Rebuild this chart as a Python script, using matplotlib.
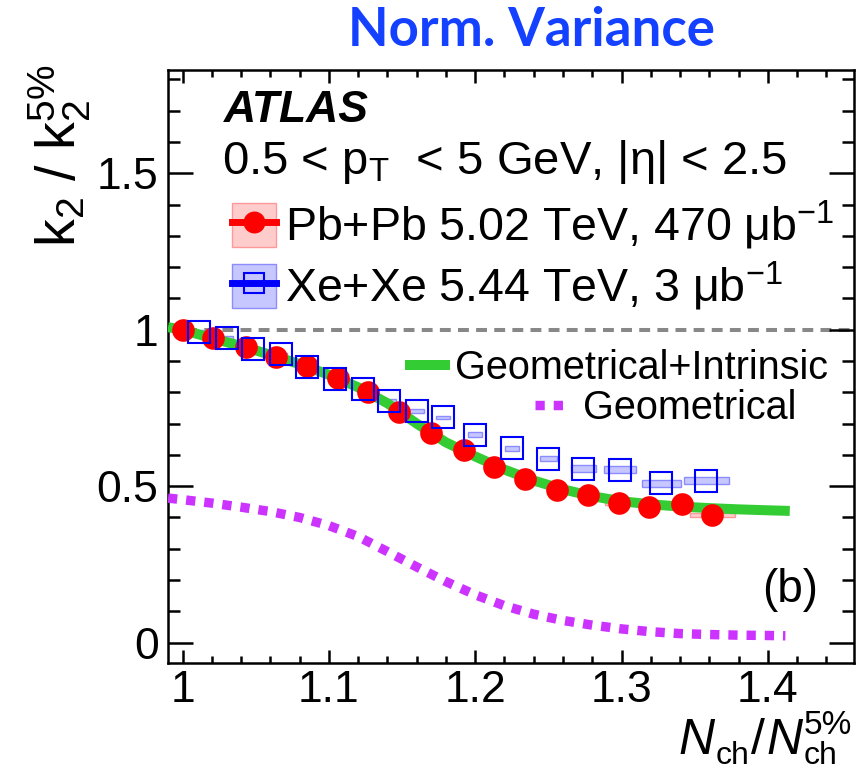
import matplotlib
matplotlib.use('Agg')
import matplotlib.pyplot as plt
from matplotlib.lines import Line2D
from matplotlib.patches import Patch
from matplotlib.legend_handler import HandlerTuple
from matplotlib.ticker import MultipleLocator, FuncFormatter

plt.rcParams['font.family'] = ['Liberation Sans', 'DejaVu Sans']
plt.rcParams['mathtext.fontset'] = 'custom'
plt.rcParams['mathtext.rm'] = 'Liberation Sans'
plt.rcParams['mathtext.it'] = 'Liberation Sans:italic'
plt.rcParams['mathtext.bf'] = 'Liberation Sans:bold'

# Pb+Pb 5.02 TeV, normalised k2 vs Nch/Nch(5%)
pb_x = [1.000, 1.021, 1.043, 1.064, 1.085, 1.106, 1.127, 1.148, 1.170,
        1.192, 1.213, 1.234, 1.256, 1.277, 1.298, 1.319, 1.341, 1.362]
pb_y = [1.000, 0.972, 0.946, 0.914, 0.884, 0.845, 0.802, 0.738, 0.669,
        0.616, 0.562, 0.522, 0.488, 0.472, 0.447, 0.435, 0.442, 0.408]
pb_sys_w = [0.010, 0.010, 0.010, 0.010, 0.010, 0.010, 0.010, 0.010, 0.010,
            0.010, 0.010, 0.010, 0.012, 0.012, 0.0185, 0.014, 0.014, 0.031]
pb_sys_h = [0.012, 0.012, 0.012, 0.012, 0.012, 0.012, 0.012, 0.012, 0.012,
            0.012, 0.012, 0.012, 0.012, 0.012, 0.012, 0.012, 0.012, 0.012]

# Xe+Xe 5.44 TeV
xe_x = [1.011, 1.030, 1.048, 1.067, 1.085, 1.104, 1.123, 1.141, 1.160,
        1.178, 1.200, 1.225, 1.250, 1.274, 1.299, 1.327, 1.358]
xe_y = [0.994, 0.973, 0.937, 0.921, 0.882, 0.843, 0.811, 0.772, 0.740,
        0.720, 0.664, 0.621, 0.587, 0.556, 0.552, 0.509, 0.517]
xe_sys_w = [0.009, 0.009, 0.009, 0.009, 0.009, 0.009, 0.009, 0.009, 0.010,
            0.009, 0.0096, 0.0096, 0.0116, 0.0171, 0.0219, 0.0267, 0.0308]
xe_sys_h = [0.011, 0.011, 0.011, 0.011, 0.011, 0.011, 0.011, 0.011, 0.011,
            0.011, 0.016, 0.016, 0.016, 0.022, 0.022, 0.022, 0.022]

# model: geometrical + intrinsic fluctuations
gi_x = [0.990, 1.00, 1.02, 1.04, 1.06, 1.08, 1.10, 1.12, 1.14, 1.16, 1.18,
        1.20, 1.22, 1.24, 1.26, 1.28, 1.30, 1.32, 1.34, 1.36, 1.38, 1.40, 1.415]
gi_y = [1.008, 1.000, 0.973, 0.948, 0.920, 0.890, 0.856, 0.816, 0.765, 0.700,
        0.640, 0.595, 0.553, 0.518, 0.490, 0.468, 0.452, 0.442, 0.435, 0.430,
        0.426, 0.423, 0.421]

# model: geometrical only
geo_x = [0.990, 1.00, 1.02, 1.04, 1.06, 1.08, 1.10, 1.12, 1.14, 1.16, 1.18,
         1.20, 1.22, 1.24, 1.26, 1.28, 1.30, 1.32, 1.34, 1.36, 1.38, 1.40, 1.412]
geo_y = [0.462, 0.457, 0.446, 0.433, 0.419, 0.400, 0.374, 0.339, 0.291, 0.242,
         0.195, 0.153, 0.118, 0.091, 0.071, 0.056, 0.044, 0.035, 0.029, 0.026,
         0.024, 0.023, 0.022]

RED = '#FF0000'
BLUE = '#0000FF'
GREEN = '#33CC33'
MAGENTA = '#CC33FF'
PINK_FILL = (1.0, 0.0, 0.0, 0.2)
PINK_EDGE = (1.0, 0.6, 0.6)
LBLUE_FILL = (0.0, 0.0, 1.0, 0.22)
LBLUE_EDGE = (0.55, 0.55, 1.0)

W, H = 861, 774
fig = plt.figure(figsize=(W / 100, H / 100), dpi=100)
ax = fig.add_axes([168.3 / W, 1 - 662.7 / H, (854 - 168.3) / W, (662.7 - 70) / H])


def fx(px):
    return px / W


def fy(py):
    return 1 - py / H


ax.set_xlim(0.9902, 1.4589)
ax.set_ylim(-0.064, 1.83)

ax.axhline(1.0, color='#888888', lw=2.9, dashes=(2.7, 1.8), zorder=1)

# systematic boxes
pb_bottom = [y - h / 2 for y, h in zip(pb_y, pb_sys_h)]
xe_bottom = [y - h / 2 for y, h in zip(xe_y, xe_sys_h)]
ax.bar(pb_x, pb_sys_h, width=pb_sys_w, bottom=pb_bottom, color=PINK_FILL,
       edgecolor=PINK_EDGE, lw=1.0, zorder=2)
ax.bar(xe_x, xe_sys_h, width=xe_sys_w, bottom=xe_bottom, color=LBLUE_FILL,
       edgecolor=LBLUE_EDGE, lw=1.0, zorder=2)

ax.plot(geo_x, geo_y, color=MAGENTA, lw=6.8, dashes=(0.98, 0.95),
        solid_capstyle='butt', zorder=3)
ax.plot(gi_x, gi_y, color=GREEN, lw=7.2, solid_capstyle='butt', zorder=3)

ax.plot(pb_x, pb_y, ls='none', marker='o', ms=16.3, color=RED, mec=RED,
        mew=0, zorder=4)
ax.plot(xe_x, xe_y, ls='none', marker='s', ms=15.3, mfc='none', mec=BLUE,
        mew=1.5, zorder=5)

# axes frame and ticks
for s in ax.spines.values():
    s.set_linewidth(1.8)
ax.xaxis.set_major_locator(MultipleLocator(0.1))
ax.xaxis.set_minor_locator(MultipleLocator(0.02))
ax.yaxis.set_major_locator(MultipleLocator(0.5))
ax.yaxis.set_minor_locator(MultipleLocator(0.1))
fmt = FuncFormatter(lambda v, p: '%g' % round(v, 3))
ax.xaxis.set_major_formatter(fmt)
ax.yaxis.set_major_formatter(fmt)
ax.tick_params(axis='both', which='both', direction='in', top=True,
               right=True, width=1.8, labelsize=32)
ax.tick_params(axis='x', which='major', length=9.4, pad=5)
ax.tick_params(axis='x', which='minor', length=5)
ax.tick_params(axis='y', which='major', length=18, pad=7)
ax.tick_params(axis='y', which='minor', length=8.6)

# y axis title
fig.text(fx(60), fy(64), r'k$_2$ / k$_2^{5\%}$', rotation=90, ha='center',
         va='top', fontsize=40)

# x axis title, built from pieces
fig.text(fx(678), fy(754), 'N', fontsize=36, fontstyle='italic', va='baseline')
fig.text(fx(716), fy(764), 'ch', fontsize=23, va='baseline')
fig.text(fx(751), fy(754), '/', fontsize=36, va='baseline')
fig.text(fx(766), fy(754), 'N', fontsize=36, fontstyle='italic', va='baseline')
fig.text(fx(804), fy(764), 'ch', fontsize=23, va='baseline')
fig.text(fx(804), fy(734), '5%', fontsize=24, va='baseline')

# labels inside the frame
fig.text(fx(531), fy(30), 'Norm. Variance', ha='center', va='center',
         fontsize=38, fontweight='bold', color='#1440FF',
         family=['Lato', 'DejaVu Sans'])
fig.text(fx(224), fy(122), 'ATLAS', fontsize=32, fontweight='bold',
         fontstyle='italic', va='baseline')
fig.text(fx(222), fy(174), r'0.5 < p$_{\mathrm{T}}$  < 5 GeV, |η| < 2.5',
         fontsize=34, va='baseline')
fig.text(fx(762), fy(602), '(b)', fontsize=33, va='baseline')

# data legend
pb_handle = (Patch(facecolor=PINK_FILL, edgecolor=PINK_EDGE),
             Line2D([], [], color=RED, lw=5, marker='o', ms=15.8, mew=0))
xe_handle = (Patch(facecolor=LBLUE_FILL, edgecolor=LBLUE_EDGE),
             Line2D([], [], color=BLUE, lw=5, marker='s', ms=14, mfc='none',
                    mec=BLUE, mew=1.5))
leg1 = fig.legend([pb_handle, xe_handle],
                  [r'Pb+Pb 5.02 TeV, 470 $\mathrm{\mu}$b$^{\mathrm{-1}}$',
                   r'Xe+Xe 5.44 TeV, 3 $\mathrm{\mu}$b$^{\mathrm{-1}}$'],
                  handler_map={tuple: HandlerTuple(ndivide=1)},
                  loc='upper left', bbox_to_anchor=(fx(232), fy(199)),
                  frameon=False, fontsize=33.5, handlelength=0.94,
                  handleheight=1.08, handletextpad=0.2, labelspacing=0.17,
                  borderpad=0, borderaxespad=0)

# model legends
leg2 = fig.legend([Line2D([], [], color=GREEN, lw=7.2)],
                  ['Geometrical+Intrinsic'], loc='center left',
                  bbox_to_anchor=(fx(410), fy(368)), frameon=False,
                  fontsize=28.5, handlelength=0.88, handletextpad=0.25,
                  borderpad=0, borderaxespad=0)
leg3 = fig.legend([Line2D([], [], color=MAGENTA, lw=6.8, dashes=(0.98, 0.95))],
                  ['Geometrical'], loc='center left',
                  bbox_to_anchor=(fx(535), fy(408)), frameon=False,
                  fontsize=28.5, handlelength=0.92, handletextpad=0.3,
                  borderpad=0, borderaxespad=0)

fig.savefig('out.png', dpi=100)
